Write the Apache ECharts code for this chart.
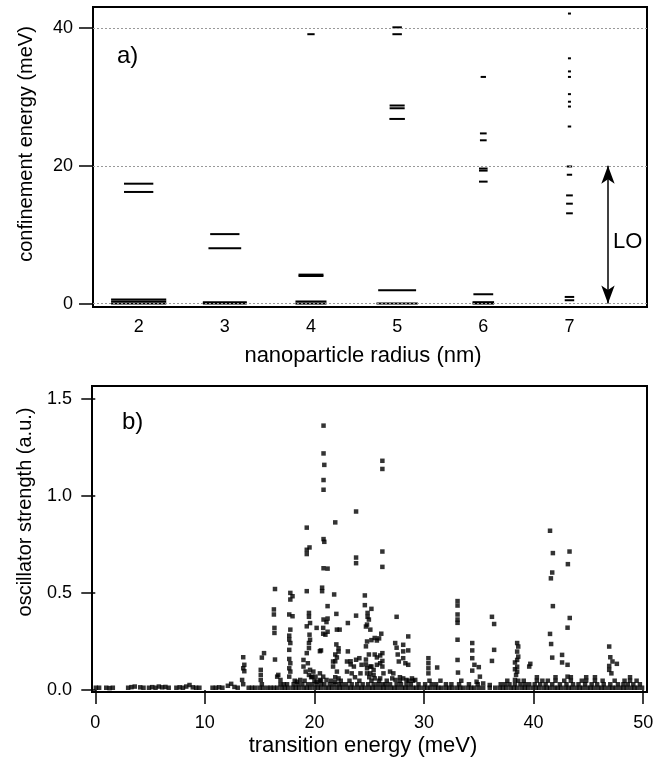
<!DOCTYPE html>
<html>
<head>
<meta charset="utf-8">
<script src="https://cdn.jsdelivr.net/npm/echarts@6/dist/echarts.min.js"></script>
<style>html,body{margin:0;padding:0;background:#fff;}#c{width:664px;height:763px;}</style>
</head>
<body>
<div id="c"></div>
<script>
// ---------- Panel a) : confinement energy levels ----------
var radii = [2, 3, 4, 5, 6, 7];
var radiusTicks = [2, 3, 4, 5, 6, 7];
var energyTicks = [0, 20, 40];
// energy (meV) and marker width (nm units, encodes degeneracy) per radius
var levelsR2 = [0, 0.3, 0.6, 16.2, 17.4];
var widthsR2 = [0.64, 0.64, 0.64, 0.34, 0.34];
var levelsR3 = [0, 0.2, 8.04, 10.08];
var widthsR3 = [0.51, 0.51, 0.38, 0.34];
var levelsR4 = [0, 0.3, 4.0, 4.2, 39.1];
var widthsR4 = [0.36, 0.36, 0.29, 0.29, 0.085];
var levelsR5 = [0, 1.93, 26.8, 28.35, 28.75, 39.1, 40.1];
var widthsR5 = [0.48, 0.44, 0.18, 0.175, 0.175, 0.11, 0.11];
var levelsR6 = [0, 0.2, 1.35, 17.7, 19.3, 19.6, 23.7, 24.7, 32.9];
var widthsR6 = [0.25, 0.25, 0.23, 0.1, 0.1, 0.1, 0.078, 0.078, 0.062];
var levelsR7 = [0.48, 0.96, 13.1, 14.5, 15.7, 18.7, 19.9, 25.7, 28.6, 29.3, 30.4, 32.9, 33.7, 35.6, 42.1];
var widthsR7 = [0.11, 0.11, 0.078, 0.078, 0.078, 0.062, 0.062, 0.04, 0.035, 0.035, 0.035, 0.035, 0.035, 0.035, 0.035];
var loRange = [0, 20];   // LO phonon energy range (meV)
var loRadius = 7.447;

// ---------- Panel b) : oscillator strength vs transition energy ----------
var transitionTicks = [0, 10, 20, 30, 40, 50];
var strengthTicks = [0, 0.5, 1.0, 1.5];
var peaksLow = [
  [0.05,0.012],[0.35,0.012],[1.0,0.012],[1.3,0.01],[1.6,0.012],[3.0,0.012],[3.3,0.015],[3.6,0.018],
  [4.1,0.014],[4.4,0.012],[4.9,0.012],[5.2,0.015],[5.5,0.012],[5.8,0.018],[6.1,0.014],[6.4,0.016],
  [6.7,0.012],[7.4,0.012],[7.7,0.014],[8.0,0.012],[8.3,0.018],[8.6,0.026],[8.9,0.014],[9.2,0.012],
  [9.5,0.012],[10.7,0.012],[11.0,0.012],[11.3,0.014],[11.6,0.012],[12.1,0.022],[12.4,0.032],
  [12.7,0.016],[13.0,0.012],
  [13.5,0.169],[13.6,0.13],[13.5,0.112],[13.6,0.097],[13.4,0.052],[13.5,0.03],
  [15.4,0.19],[15.2,0.167],[15.1,0.104],[15.1,0.078],[15.1,0.052],[15.2,0.03],
  [16.4,0.52],[16.3,0.415],[16.3,0.389],[16.35,0.32],[16.35,0.294],[16.4,0.157],
  [16.7,0.078],[16.9,0.052],[16.6,0.069]
];
var peaksMid = [
  [17.8,0.50],[18.0,0.483],[17.8,0.466],[17.7,0.389],[18.0,0.38],[17.8,0.311],[17.7,0.28],[17.7,0.26],
  [17.8,0.242],[17.7,0.207],[17.7,0.16],[17.8,0.138],[17.7,0.112],[17.8,0.095],[17.7,0.069],[18.4,0.043],
  [18.7,0.052],
  [19.3,0.836],[19.3,0.722],[19.55,0.734],[19.3,0.70],[19.3,0.509],[19.5,0.397],[19.5,0.377],[19.6,0.345],
  [19.3,0.328],[19.55,0.285],[19.6,0.259],[19.5,0.242],[19.5,0.216],[19.3,0.19],[19.4,0.138],[19.6,0.104],
  [19.9,0.095],[19.0,0.155],[19.0,0.121],[19.2,0.095],[19.5,0.078],[19.8,0.069],[20.1,0.069],[20.5,0.2],
  [20.5,0.086],
  [20.83,1.361],[20.83,1.218],[20.9,1.159],[20.83,1.081],[20.83,1.031],[20.83,0.777],[20.9,0.763],
  [20.83,0.627],[20.7,0.527],[20.7,0.509],[20.83,0.363],[20.8,0.32],[20.8,0.29],[20.6,0.204],[20.2,0.32],
  [20.8,0.069],[20.5,0.052],[20.2,0.043],
  [21.2,0.625],[21.2,0.432],[21.2,0.368],[21.1,0.35],[21.2,0.30],[21.0,0.285],[21.1,0.052],
  [21.9,0.863],[21.8,0.492],[22.0,0.392],[22.05,0.311],[22.3,0.311],[22.0,0.235],[22.2,0.215],
  [22.2,0.198],[21.9,0.183],[22.05,0.168],[21.9,0.148],[21.7,0.147],[21.7,0.121],[22.05,0.095],
  [22.2,0.06],[21.9,0.043],
  [23.05,0.345],[23.05,0.199],[23.3,0.148],[22.97,0.147],[23.3,0.132],[23.6,0.121],[22.97,0.095],
  [23.4,0.086],
  [23.8,0.919],[23.8,0.682],[23.8,0.653],[23.8,0.383],[23.8,0.156],
  [24.6,0.487],[24.6,0.437],[25.2,0.418],[24.85,0.397],[24.85,0.377],[24.97,0.363],[24.8,0.337],
  [24.7,0.327],[25.1,0.311],[25.5,0.268],[25.2,0.257],[24.8,0.25],[24.7,0.225],[24.97,0.183],
  [24.7,0.157],[24.1,0.164],[24.3,0.13],[24.7,0.132],[24.2,0.086],[24.8,0.112],[24.8,0.086],
  [25.2,0.121],[25.4,0.078],[25.7,0.13]
];
var peaksHigh = [
  [26.2,1.18],[26.2,1.138],[26.2,0.713],[26.2,0.634],[26.1,0.29],[25.9,0.266],[25.7,0.255],[25.5,0.183],
  [26.2,0.19],[26.0,0.178],[25.7,0.168],[26.0,0.138],[26.2,0.15],[26.2,0.121],[26.3,0.086],[26.0,0.06],
  [25.1,0.121],[25.1,0.086],[25.4,0.104],[25.5,0.06],
  [26.9,0.095],[27.2,0.086],[27.1,0.06],[27.4,0.052],[28.1,0.06],[28.4,0.052],[28.9,0.06],[29.2,0.052],
  [27.5,0.377],[27.37,0.242],[27.5,0.218],[27.6,0.183],[27.7,0.147],[28.1,0.233],[28.1,0.199],
  [28.56,0.276],[28.56,0.204],[28.1,0.164],[28.3,0.138],[28.56,0.13],
  [30.4,0.164],[30.4,0.138],[30.4,0.112],[30.4,0.086],[31.2,0.116],
  [33.06,0.458],[33.06,0.435],[33.06,0.389],[33.06,0.363],[33.06,0.346],[33.06,0.259],[33.06,0.155],
  [33.1,0.09],
  [34.4,0.242],[34.4,0.204],[34.4,0.164],[34.6,0.13],[35.0,0.118],[34.4,0.10],[35.1,0.069],
  [34.8,0.043],[35.4,0.034],[36.0,0.026],
  [36.2,0.377],[36.4,0.34],[36.4,0.207],[36.2,0.15],
  [38.5,0.242],[38.6,0.224],[38.5,0.198],[38.6,0.172],[38.5,0.155],[38.3,0.142],[38.5,0.12],
  [38.3,0.107],[38.5,0.095],[38.4,0.078],[38.3,0.052],
  [39.7,0.135],[39.6,0.121],
  [41.5,0.82],[41.76,0.705],[41.7,0.605],[41.58,0.575],[41.76,0.432],[41.5,0.289],[41.6,0.237],
  [41.7,0.167],
  [43.28,0.713],[43.13,0.648],[43.3,0.371],[43.1,0.321],[42.6,0.181],[42.6,0.142],[43.1,0.13],
  [43.1,0.069],
  [46.9,0.224],[47.0,0.169],[47.2,0.147],[47.6,0.135],[46.9,0.124],[46.9,0.104],[47.1,0.086]
];
var baselineA = [
  14.0,14.3,14.6,15.0,15.3,15.7,16.0,16.3,16.6,17.0,17.3,17.6,18.0,18.3,18.6,19.0,19.3,19.6,20.0,20.3,
  20.6,21.0,21.3,21.6,22.0,22.3,22.6,23.0,23.3,23.6,24.0,24.3,24.6,25.0,25.3,25.6,26.0,26.3,26.6,27.0,
  27.3,27.6,28.0,28.3,28.6,29.0,29.3,29.6,30.0,30.3,30.6,31.0,31.3,31.6,32.0,32.3,32.6,33.0,33.3,33.6,
  34.0,34.3,34.6,35.0,35.4,36.0,36.5,36.9,37.2,37.5,37.9,38.2,38.5,38.9,39.2,39.5,39.9,40.2,40.5,40.9,
  41.2,41.5,41.9,42.2,42.5,42.9,43.2,43.5,43.9,44.2,44.5,44.9,45.2,45.5,45.9,46.2,46.5,46.9,47.2,47.5,
  47.9,48.2,48.5,48.9,49.2,49.5,49.9
];
var baselineB = [
  16.9,17.2,17.5,18.1,18.5,18.9,19.4,19.8,20.2,20.6,20.9,21.4,21.8,22.2,22.5,22.9,23.4,23.9,24.4,24.9,
  25.4,25.8,26.2,26.5,26.9,27.5,27.9,28.4,28.8,29.5,30.1,30.7,31.1,32.0,32.5,33.2,34.1,34.9,37.0,37.4,
  37.8,38.3,38.8,39.2,39.6,40.1,40.6,41.1,41.7,42.4,43.0,43.6,44.1,44.7,45.3,45.8,46.4,47.0,47.7,48.2,
  48.6,49.1,49.7
];
var baselineC = [
  18.2,19.1,20.0,20.6,21.5,22.4,23.2,24.1,25.2,25.9,26.6,27.8,28.6,29.0,30.5,31.5,33.4,37.6,38.6,39.1,
  40.3,40.8,41.3,42.0,42.8,43.4,44.4,44.8,45.6,46.3,47.4,48.3,48.8,49.4
];
var baselineD = [19.7, 21.9, 23.7, 25.0, 27.8, 40.3, 42.0, 43.4, 44.8, 45.6, 48.8];
var baselineLevelA = 0.012, baselineLevelB = 0.03, baselineLevelC = 0.048, baselineLevelD = 0.066;

// ---------- build data ----------
var levelData = [];
var levelSets = [[levelsR2, widthsR2], [levelsR3, widthsR3], [levelsR4, widthsR4],
                 [levelsR5, widthsR5], [levelsR6, widthsR6], [levelsR7, widthsR7]];
levelSets.forEach(function (s, i) {
  s[0].forEach(function (e, j) { levelData.push([radii[i], e, s[1][j]]); });
});
var strengthData = peaksLow.concat(peaksMid, peaksHigh);
baselineA.forEach(function (e) { strengthData.push([e, baselineLevelA]); });
baselineB.forEach(function (e) { strengthData.push([e, baselineLevelB]); });
baselineC.forEach(function (e) { strengthData.push([e, baselineLevelC]); });
baselineD.forEach(function (e) { strengthData.push([e, baselineLevelD]); });

var FONT = 'Liberation Sans, Arial, Helvetica, sans-serif';
var chart = echarts.init(document.getElementById('c'), null, { renderer: 'canvas' });
var tickStyle = { color: '#000', width: 1.5 };
chart.setOption({
  animation: false,
  backgroundColor: '#fff',
  grid: [
    { left: 93, top: 7, width: 554, height: 300, show: true, borderColor: '#000', borderWidth: 2, backgroundColor: 'transparent' },
    { left: 92, top: 386, width: 555, height: 306, show: true, borderColor: '#000', borderWidth: 2, backgroundColor: 'transparent' }
  ],
  xAxis: [
    { gridIndex: 0, type: 'value', min: 1.47, max: 7.9,
      axisLine: { show: false }, axisTick: { show: false }, splitLine: { show: false },
      axisLabel: { customValues: radiusTicks, color: '#000', fontSize: 18, fontFamily: FONT, margin: 11 } },
    { gridIndex: 1, type: 'value', min: -0.3, max: 50.35,
      axisLine: { show: false }, splitLine: { show: false },
      axisTick: { show: true, customValues: transitionTicks, length: 14, inside: false, lineStyle: tickStyle },
      axisLabel: { customValues: transitionTicks, color: '#000', fontSize: 18, fontFamily: FONT, margin: 22 } }
  ],
  yAxis: [
    { gridIndex: 0, type: 'value', min: -0.5, max: 43.05,
      axisLine: { show: false }, splitLine: { show: false },
      axisTick: { show: true, customValues: energyTicks, length: 14, lineStyle: tickStyle },
      axisLabel: { customValues: energyTicks, color: '#000', fontSize: 18, fontFamily: FONT, margin: 20 } },
    { gridIndex: 1, type: 'value', min: -0.01, max: 1.565,
      axisLine: { show: false }, splitLine: { show: false },
      axisTick: { show: true, customValues: strengthTicks, length: 14, lineStyle: tickStyle },
      axisLabel: { customValues: strengthTicks, color: '#000', fontSize: 18, fontFamily: FONT, margin: 20,
        formatter: function (v) { return v.toFixed(1); } } }
  ],
  series: [
    { type: 'line', xAxisIndex: 0, yAxisIndex: 0, data: [], silent: true,
      markLine: { silent: true, symbol: 'none', label: { show: false },
        lineStyle: { color: '#999', type: [2, 2], width: 1 },
        data: energyTicks.map(function (v) { return { yAxis: v }; }) } },
    { type: 'custom', xAxisIndex: 0, yAxisIndex: 0, data: levelData, clip: true,
      renderItem: function (params, api) {
        var r = api.value(0), e = api.value(1), w = api.value(2);
        var p1 = api.coord([r - w / 2, e]);
        var p2 = api.coord([r + w / 2, e]);
        return { type: 'line', shape: { x1: p1[0], y1: p1[1], x2: p2[0], y2: p2[1] },
                 style: { stroke: '#000', lineWidth: 2 } };
      },
      markLine: { silent: true, symbol: ['arrow', 'arrow'], symbolSize: [10, 18], label: { show: false },
        lineStyle: { color: '#000', type: 'solid', width: 1.5 },
        data: [[{ coord: [loRadius, loRange[1]] }, { coord: [loRadius, loRange[0]] }]] } },
    { type: 'scatter', xAxisIndex: 1, yAxisIndex: 1, data: strengthData,
      symbol: 'rect', symbolSize: 4.5, itemStyle: { color: '#000' }, silent: true }
  ],
  graphic: [
    { type: 'text', x: 117, y: 56, style: { text: 'a)', font: '24px ' + FONT, fill: '#000', verticalAlign: 'middle' } },
    { type: 'text', x: 122, y: 422, style: { text: 'b)', font: '24px ' + FONT, fill: '#000', verticalAlign: 'middle' } },
    { type: 'text', x: 613, y: 242, style: { text: 'LO', font: '22px ' + FONT, fill: '#000', verticalAlign: 'middle' } },
    { type: 'text', x: 363, y: 356, style: { text: 'nanoparticle radius (nm)', font: '22px ' + FONT, fill: '#000', align: 'center', verticalAlign: 'middle' } },
    { type: 'text', x: 363, y: 746, style: { text: 'transition energy (meV)', font: '22px ' + FONT, fill: '#000', align: 'center', verticalAlign: 'middle' } },
    { type: 'text', x: 26, y: 144, rotation: Math.PI / 2, style: { text: 'confinement energy (meV)', font: '20px ' + FONT, fill: '#000', align: 'center', verticalAlign: 'middle' } },
    { type: 'text', x: 25, y: 512, rotation: Math.PI / 2, style: { text: 'oscillator strength (a.u.)', font: '20px ' + FONT, fill: '#000', align: 'center', verticalAlign: 'middle' } }
  ]
});
</script>
</body>
</html>
